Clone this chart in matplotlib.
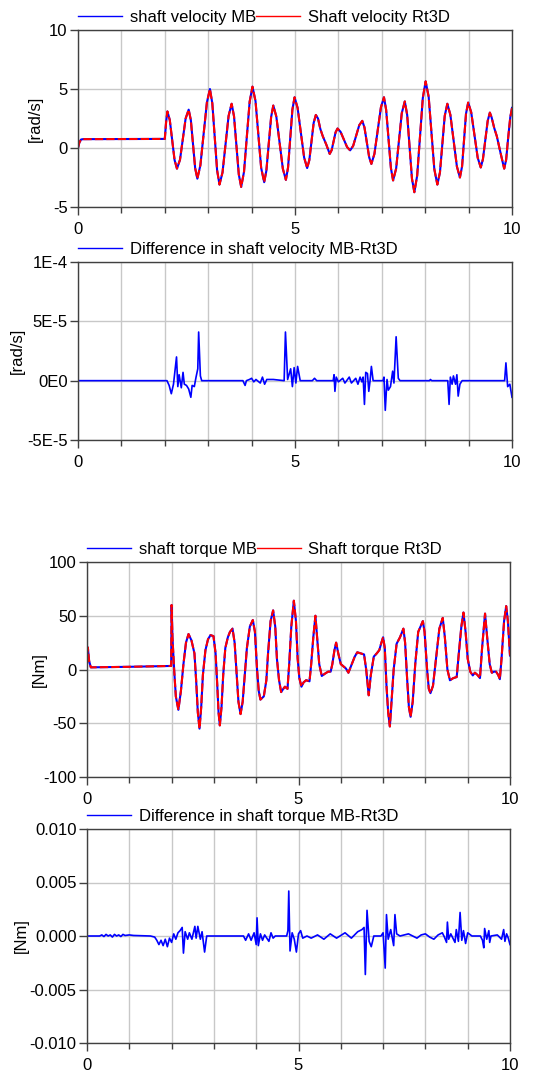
import numpy as np
import matplotlib
matplotlib.use("Agg")
import matplotlib.pyplot as plt
from matplotlib.lines import Line2D
from matplotlib.ticker import MultipleLocator

plt.rcParams['font.family'] = ['Liberation Sans', 'DejaVu Sans']
plt.rcParams['axes.unicode_minus'] = False

# shaft velocity [rad/s]
t_vel = [0, 0.03, 0.07, 0.12, 2.0, 2.03, 2.06, 2.115, 2.17, 2.225, 2.28,
         2.35, 2.415, 2.48, 2.55, 2.60, 2.65, 2.70, 2.75, 2.82, 2.895, 2.97, 3.04,
         3.095, 3.15, 3.205, 3.26, 3.33, 3.40, 3.47, 3.54, 3.595, 3.65, 3.705, 3.76,
         3.825, 3.89, 3.955, 4.02, 4.09, 4.155, 4.22, 4.29, 4.34, 4.395, 4.45, 4.50,
         4.57, 4.645, 4.72, 4.79, 4.84, 4.89, 4.94, 4.99, 5.06, 5.135, 5.21, 5.28,
         5.33, 5.38, 5.43, 5.48, 5.53, 5.585, 5.64, 5.72, 5.80, 5.845, 5.89, 5.935, 5.98,
         6.05, 6.125, 6.20, 6.27, 6.34, 6.41, 6.48, 6.55, 6.60, 6.655, 6.71, 6.76,
         6.83, 6.905, 6.98, 7.05, 7.10, 7.155, 7.21, 7.26, 7.33, 7.395, 7.46, 7.53,
         7.585, 7.64, 7.695, 7.75, 7.815, 7.88, 7.945, 8.01, 8.08, 8.145, 8.21, 8.28,
         8.34, 8.395, 8.45, 8.51, 8.58, 8.655, 8.73, 8.80, 8.85, 8.895, 8.94, 8.99,
         9.06, 9.135, 9.21, 9.28, 9.33, 9.385, 9.44, 9.49, 9.53, 9.59, 9.65, 9.735, 9.82,
         9.865, 9.91, 9.96, 10.0]
vel_mb = [0.0, 0.45, 0.72, 0.75, 0.77, 2.2, 3.1, 2.37, 0.68, -1.02, -1.75,
          -1.0, 0.75, 2.5, 3.25, 2.37, 0.33, -1.72, -2.6, -1.46, 1.2, 3.86, 5.0,
          3.78, 0.95, -1.88, -3.1, -2.07, 0.33, 2.72, 3.75, 2.69, 0.23, -2.24, -3.3,
          -2.02, 0.95, 3.92, 5.2, 3.98, 1.15, -1.68, -2.9, -1.93, 0.35, 2.63, 3.6,
          2.66, 0.45, -1.76, -2.7, -1.65, 0.8, 3.25, 4.3, 3.4, 1.3, -0.8, -1.7,
          -1.03, 0.55, 2.13, 2.8, 2.5, 1.6, 1.0, 0.3, -0.5, -0.18, 0.58, 1.33, 1.65,
          1.37, 0.72, 0.08, -0.2, 0.18, 1.05, 1.93, 2.3, 1.75, 0.48, -0.8, -1.35,
          -0.5, 1.48, 3.45, 4.3, 3.24, 0.78, -1.7, -2.75, -1.75, 0.6, 2.95, 3.95,
          2.8, 0.1, -2.6, -3.75, -2.34, 0.95, 4.24, 5.65, 4.34, 1.28, -1.79, -3.1,
          -2.07, 0.33, 2.72, 3.75, 2.81, 0.63, -1.56, -2.5, -1.55, 0.68, 2.9, 3.85,
          3.03, 1.1, -0.83, -1.65, -0.95, 0.68, 2.3, 3.0, 2.6, 1.7, 1.0, -0.4, -1.75,
          -1.0, 0.8, 2.6, 3.4]
vel_rt3d = list(vel_mb)

# velocity difference MB-Rt3D, in 1E-5 rad/s
t_vdiff = [0, 2.05, 2.1, 2.15, 2.2, 2.27, 2.3, 2.33, 2.38, 2.42, 2.45, 2.5, 2.55, 2.6,
           2.63, 2.68, 2.72, 2.76, 2.78, 2.82, 2.85, 3.8, 3.85, 3.88, 3.95, 4.0, 4.05,
           4.1, 4.2, 4.25, 4.3, 4.35, 4.5, 4.75, 4.78, 4.83, 4.9, 4.94, 4.98, 5.02,
           5.06, 5.12, 5.4, 5.45, 5.5, 5.88, 5.9, 5.92, 5.95, 6.0, 6.1, 6.15, 6.25, 6.3,
           6.4, 6.45, 6.5, 6.54, 6.57, 6.6, 6.63, 6.67, 6.7, 6.73, 6.76, 6.8, 7.03,
           7.05, 7.08, 7.12, 7.15, 7.2, 7.25, 7.28, 7.33, 7.38, 7.42, 8.1, 8.12, 8.15,
           8.52, 8.55, 8.58, 8.62, 8.65, 8.7, 8.73, 8.76, 8.8, 8.85, 9.83, 9.86, 9.9,
           9.95, 10.0]
vdiff = [0, 0, -0.4, -1.1, -0.3, 2.0, -0.5, 0.5, -0.6, 0.7, -0.3, -0.4, -0.7, -1.4,
         -0.4, -0.5, 0.3, 1.0, 4.1, 0.4, 0, 0, -0.4, 0, 0.1, 0.2, -0.1,
         0.1, -0.2, 0.3, -0.3, 0.1, 0.1, 0, 4.1, 0.1, 1.0, -0.5, 1.1, -0.2,
         1.2, 0, 0, 0.2, 0, 0, 0.5, -0.9, 0.3, -0.1, 0.2, -0.2, 0.3, -0.2,
         0.2, -0.3, 0.3, -0.1, 0.3, -2.0, 0.7, 0.6, -0.9, 0, 1.2, 0, 0,
         0.3, -2.5, 0.1, -0.8, -0.5, 0.8, -0.2, 3.7, 0.2, 0, 0, 0.1, 0,
         0, -2.0, 0.3, -0.3, 0.4, -0.3, 0.5, -1.3, -0.3, 0, 0, 1.5, -0.5,
         -0.3, -1.4]

# shaft torque [Nm]
t_trq = [0, 0.02, 0.05, 0.09, 1.0, 1.99, 2.0, 2.02, 2.06, 2.1, 2.16, 2.22, 2.28, 2.34,
         2.4, 2.47, 2.54, 2.58, 2.62, 2.66, 2.70, 2.74, 2.8, 2.86, 2.92, 2.99, 3.04,
         3.08, 3.11, 3.14, 3.18, 3.22, 3.27, 3.33, 3.38, 3.44, 3.49, 3.54, 3.58, 3.63,
         3.68, 3.73, 3.78, 3.85, 3.92, 3.97, 4.02, 4.06, 4.10, 4.18, 4.24, 4.28, 4.34,
         4.40, 4.45, 4.49, 4.54, 4.59, 4.64, 4.68, 4.74, 4.78, 4.83, 4.89, 4.94, 4.98,
         5.02, 5.07, 5.12, 5.18, 5.26, 5.30, 5.35, 5.40, 5.44, 5.49, 5.55, 5.62, 5.7,
         5.76, 5.8, 5.85, 5.89, 5.94, 6.0, 6.06, 6.12, 6.18, 6.26, 6.33, 6.39, 6.47,
         6.55, 6.6, 6.66, 6.71, 6.78, 6.85, 6.91, 6.96, 7.0, 7.04, 7.08, 7.12, 7.16,
         7.2, 7.25, 7.32, 7.4, 7.48, 7.52, 7.57, 7.61, 7.65, 7.7, 7.76, 7.83, 7.94,
         7.98, 8.04, 8.08, 8.12, 8.18, 8.25, 8.33, 8.41, 8.46, 8.52, 8.58, 8.66, 8.74,
         8.79, 8.85, 8.90, 8.95, 9.0, 9.06, 9.12, 9.17, 9.23, 9.29, 9.34, 9.41, 9.46,
         9.52, 9.57, 9.62, 9.67, 9.72, 9.76, 9.8, 9.86, 9.91, 9.95, 10.0]
trq_mb = [5, 20.5, 8, 2, 2.5, 3.3, 60, 30, 0, -25, -37.5, -20, 5, 25,
          33, 27, 15, -10, -40, -55, -35, -5, 18, 28, 32, 31, 15,
          -15, -40, -52, -35, -5, 20, 30, 35, 38, 25, -5, -30, -41.5,
          -30, -5, 20, 40, 46, 35, 0, -20, -28, -25, -10, 15, 45,
          55, 40, 10, -10, -21, -18, -16, -18, 5, 40, 64, 45, 10,
          -8, -16, -12, -10, -11, 5, 30, 50, 30, 5, -6, -4, -2,
          -2, 5, 18, 25, 15, 5, 3, 1, -3, 5, 12, 16, 15,
          14, 0, -24, -5, 12, 15, 18, 25, 30, 20, -15, -40, -53,
          -30, 0, 24, 30, 38, 25, -10, -35, -44, -30, 5, 35, 45,
          35, 0, -18, -22, -15, 10, 38, 48, 30, 0, -10, -8, -7,
          15, 40, 53, 35, 10, -2, -5.5, -3, -5, -8, 20, 52, 30,
          5, -3, -2, -2, -5, -9, 10, 45, 59, 45, 13]
trq_rt3d = list(trq_mb)

# torque difference MB-Rt3D, in 1E-3 Nm
t_tdiff = [0, 0.3, 0.35, 0.4, 0.45, 0.5, 0.55, 0.6, 0.65, 0.7, 0.75, 0.8, 0.85, 0.9,
           1.0, 1.1, 1.5, 1.6, 1.65, 1.7, 1.75, 1.8, 1.85, 1.9, 1.95, 2.0, 2.05, 2.1,
           2.15, 2.2, 2.25, 2.28, 2.32, 2.38, 2.42, 2.48, 2.55, 2.58, 2.62, 2.68, 2.72,
           2.78, 2.83, 3.7, 3.75, 3.82, 3.88, 3.95, 4.0, 4.02, 4.05, 4.1, 4.15, 4.2,
           4.25, 4.3, 4.35, 4.4, 4.45, 4.72, 4.75, 4.77, 4.8, 4.85, 4.9, 4.95, 5.0,
           5.05, 5.1, 5.2, 5.3, 5.45, 5.6, 5.75, 5.9, 6.1, 6.25, 6.4, 6.5, 6.55, 6.58,
           6.62, 6.67, 6.72, 6.78, 6.95, 7.0, 7.05, 7.08, 7.12, 7.18, 7.25, 7.28, 7.32,
           7.4, 7.6, 7.7, 7.8, 7.9, 8.0, 8.1, 8.2, 8.3, 8.4, 8.45, 8.5, 8.52, 8.55,
           8.6, 8.7, 8.73, 8.78, 8.82, 8.86, 8.9, 8.95, 9.0, 9.1, 9.3, 9.35, 9.38,
           9.4, 9.45, 9.5, 9.52, 9.55, 9.7, 9.8, 9.85, 9.88, 9.92, 9.96, 10.0]
tdiff = [0, 0, 0.1, -0.05, 0.15, 0, 0.1, -0.1, 0.15, 0, 0.1, -0.05, 0.15, 0.05,
         0.1, 0.05, 0, -0.1, -0.4, -0.8, -0.4, -0.9, -0.3, -1.0, -0.2, -0.6, 0.2, -0.3,
         0.3, 0.5, 0.8, -1.6, 0.4, -0.3, 0.3, -0.3, 0.9, -0.2, 0.9, -0.3, 0.4,
         -1.5, 0, 0, -0.4, 0.2, -0.4, 0.3, -0.8, 1.7, -0.9, 0.2, -0.4, 0.1,
         -0.2, -0.5, 0.3, -0.2, 0, 0, 0.5, 4.2, -1.4, 0.3, -0.3, -1.5, 0.2,
         0.5, -0.2, 0, -0.2, 0.1, -0.3, 0.2, -0.2, 0.3, -0.2, 0.4, 0.6, 0.8, -3.6,
         2.4, -0.5, -1.0, 0, 0, 0.3, -3.0, 2.0, -0.3, 0.6, -0.9, 2.0, 0.2,
         0, 0.2, 0, -0.2, 0.1, 0.2, -0.1, -0.3, 0.1, 0.3, -0.1, -0.6, 1.3, -0.3,
         0.2, -0.6, 0.6, -0.5, 2.2, -0.4, 0.5, -0.7, 0.3, 0, 0, -0.4, -1.1,
         0.7, -0.3, 0.5, -0.6, 0, 0.1, -0.3, 0.6, -0.5, 0.2, -0.2, -0.8]

W, H = 543, 1073
fig = plt.figure(figsize=(W / 100, H / 100), dpi=100)


def make_ax(left, right, top, bottom):
    ax = fig.add_axes([left / W, 1 - bottom / H, (right - left) / W, (bottom - top) / H])
    ax.h_px = bottom - top
    return ax


def style(ax, ylim, yticks, ylabels, ylabel, ylabel_x):
    ax.set_xlim(0, 10)
    ax.set_ylim(*ylim)
    ax.set_xticks([0, 5, 10])
    ax.xaxis.set_minor_locator(MultipleLocator(1))
    ax.set_yticks(yticks)
    ax.set_yticklabels(ylabels)
    ax.grid(True, which='both', axis='x', color='#c8c8c8', lw=1)
    ax.grid(True, which='major', axis='y', color='#c8c8c8', lw=1)
    ax.set_axisbelow(True)
    ax.tick_params(which='major', direction='out', length=6, width=1, labelsize=12,
                   color='#404040')
    ax.tick_params(which='minor', direction='out', length=4, width=1, color='#404040')
    ax.tick_params(axis='y', pad=1.5)
    ax.tick_params(axis='x', pad=4.5)
    for s in ax.spines.values():
        s.set_color('#404040')
        s.set_linewidth(1)
    ax.set_ylabel(ylabel, fontsize=12)
    ax.yaxis.set_label_coords(ylabel_x, 0.5)


def legend(ax, handles, labels):
    ax.legend(handles, labels, loc='lower left', bbox_to_anchor=(0, 1 + 5 / ax.h_px),
              ncol=len(labels), frameon=False, fontsize=12, borderaxespad=0, borderpad=0,
              handlelength=2.65, handletextpad=0.45, columnspacing=0.0)


blue = Line2D([], [], color='#0000ff', lw=1)
red = Line2D([], [], color='#ff0000', lw=1)

# panel 1
ax1 = make_ax(78, 512, 30, 207)
ax1.plot(t_vel, vel_mb, color='#0000ff', lw=1.5)
ax1.plot(t_vel, vel_rt3d, color='#ff0000', lw=1.5, ls=(0, (4, 1.5)))
style(ax1, (-5, 10), [-5, 0, 5, 10], ['-5', '0', '5', '10'], '[rad/s]', -0.081)
legend(ax1, [blue, red], ['shaft velocity MB', 'Shaft velocity Rt3D'])

# panel 2
ax2 = make_ax(78, 512, 262, 440)
ax2.plot(t_vdiff, np.array(vdiff) * 1e-5, color='#0000ff', lw=1.2)
style(ax2, (-5e-5, 1e-4), [-5e-5, 0, 5e-5, 1e-4], ['-5E-5', '0E0', '5E-5', '1E-4'],
      '[rad/s]', -0.122)
legend(ax2, [blue], ['Difference in shaft velocity MB-Rt3D'])

# panel 3
ax3 = make_ax(87, 510, 562, 777)
ax3.plot(t_trq, trq_mb, color='#0000ff', lw=1.5)
ax3.plot(t_trq, trq_rt3d, color='#ff0000', lw=1.5, ls=(0, (4, 1.5)))
style(ax3, (-100, 100), [-100, -50, 0, 50, 100], ['-100', '-50', '0', '50', '100'],
      '[Nm]', -0.095)
legend(ax3, [blue, red], ['shaft torque MB', 'Shaft torque Rt3D'])

# panel 4
ax4 = make_ax(87, 510, 829, 1043)
ax4.plot(t_tdiff, np.array(tdiff) * 1e-3, color='#0000ff', lw=1.2)
style(ax4, (-0.01, 0.01), [-0.01, -0.005, 0, 0.005, 0.01],
      ['-0.010', '-0.005', '0.000', '0.005', '0.010'], '[Nm]', -0.137)
legend(ax4, [blue], ['Difference in shaft torque MB-Rt3D'])

fig.savefig('out.png', dpi=100)
